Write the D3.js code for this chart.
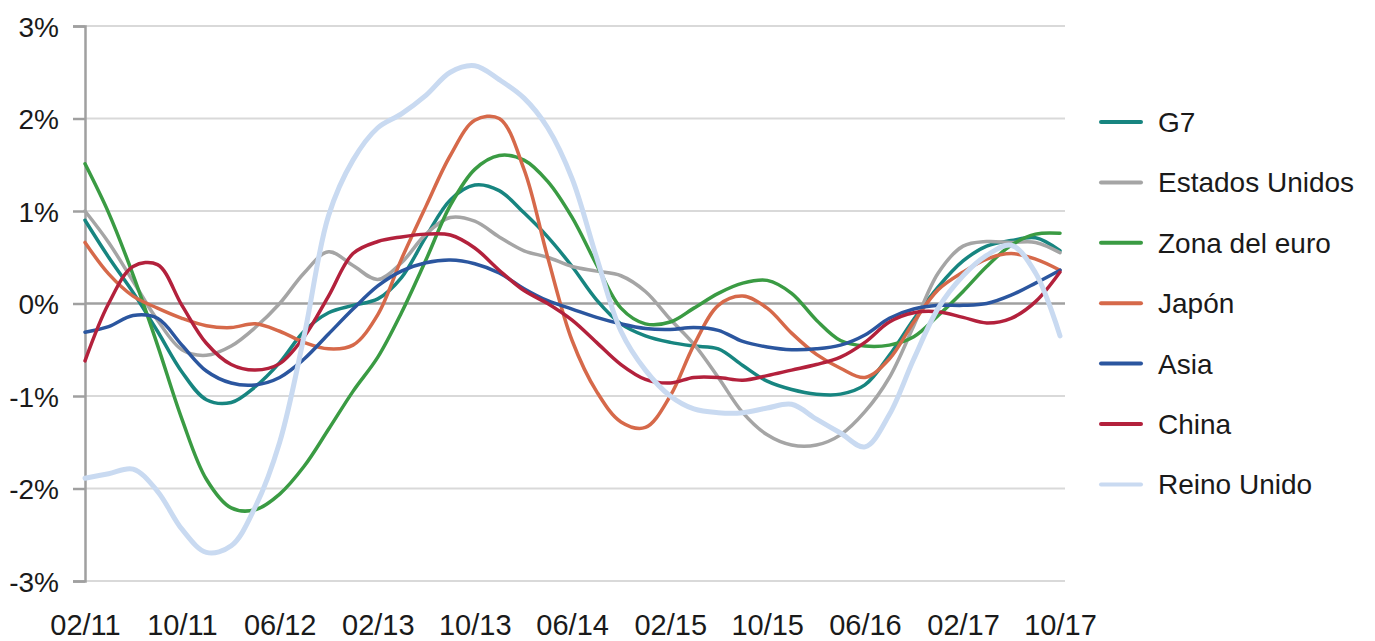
<!DOCTYPE html>
<html>
<head>
<meta charset="utf-8">
<script src="https://cdn.jsdelivr.net/npm/d3@7"></script>
<style>
	body { margin: 0; background: #fff; }
	text { font-family: "Liberation Sans", Arial, sans-serif; fill: #1a1a1a; }
</style>
</head>
<body>
<svg id="content" width="1375" height="641"></svg>
<script>
	// bi-monthly points, 02/2011 .. 10/2017
	const startMonth = '02/11';
	const endMonth = '10/17';
	const xTickLabels = ['02/11', '10/11', '06/12', '02/13', '10/13', '06/14', '02/15', '10/15', '06/16', '02/17', '10/17'];
	const yTicks = [-3, -2, -1, 0, 1, 2, 3];

	const seriesNames = ['G7', 'Estados Unidos', 'Zona del euro', 'Japón', 'Asia', 'China', 'Reino Unido'];
	const seriesColors = ['#178580', '#a5a5a5', '#3a9b43', '#d6694a', '#2b569f', '#b3213c', '#c9daf1'];

	const g7 = [0.9, 0.5, 0.12, -0.3, -0.74, -1.04, -1.07, -0.9, -0.64, -0.3, -0.1, -0.02, 0.05, 0.28, 0.72, 1.12, 1.28, 1.22, 0.98, 0.72, 0.4, 0.04, -0.22, -0.35, -0.42, -0.46, -0.49, -0.67, -0.84, -0.93, -0.98, -0.98, -0.88, -0.56, -0.17, 0.18, 0.46, 0.62, 0.68, 0.71, 0.57];
	const estadosUnidos = [1.0, 0.66, 0.24, -0.18, -0.5, -0.56, -0.46, -0.26, 0.0, 0.33, 0.56, 0.41, 0.26, 0.44, 0.75, 0.93, 0.89, 0.72, 0.57, 0.5, 0.4, 0.35, 0.3, 0.13, -0.17, -0.44, -0.8, -1.18, -1.42, -1.53, -1.53, -1.42, -1.17, -0.8, -0.24, 0.33, 0.62, 0.67, 0.66, 0.66, 0.55];
	const zonaEuro = [1.51, 0.98, 0.31, -0.45, -1.25, -1.9, -2.21, -2.23, -2.06, -1.76, -1.36, -0.95, -0.58, -0.1, 0.47, 1.06, 1.45, 1.6, 1.55, 1.32, 0.93, 0.42, -0.05, -0.22, -0.2, -0.05, 0.11, 0.22, 0.25, 0.11, -0.18, -0.4, -0.46, -0.45, -0.36, -0.13, 0.13, 0.4, 0.63, 0.75, 0.76];
	const japon = [0.66, 0.32, 0.08, -0.05, -0.16, -0.24, -0.26, -0.22, -0.3, -0.42, -0.49, -0.45, -0.12, 0.48, 1.05, 1.6, 1.98, 2.0, 1.45, 0.5, -0.4, -0.95, -1.28, -1.34, -1.0, -0.45, -0.02, 0.08, -0.05, -0.32, -0.55, -0.7, -0.8, -0.6, -0.2, 0.15, 0.34, 0.48, 0.54, 0.48, 0.36];
	const asia = [-0.31, -0.25, -0.13, -0.16, -0.45, -0.73, -0.86, -0.88, -0.8, -0.6, -0.33, -0.06, 0.19, 0.35, 0.44, 0.47, 0.43, 0.33, 0.16, 0.03, -0.06, -0.15, -0.22, -0.27, -0.28, -0.26, -0.29, -0.41, -0.47, -0.5, -0.49, -0.45, -0.34, -0.16, -0.06, -0.02, -0.02, 0.0, 0.09, 0.22, 0.36];
	const china = [-0.62, 0.0, 0.4, 0.42, -0.02, -0.43, -0.66, -0.72, -0.65, -0.36, 0.08, 0.54, 0.67, 0.72, 0.75, 0.74, 0.6, 0.36, 0.14, 0.0, -0.18, -0.42, -0.66, -0.82, -0.86, -0.8, -0.8, -0.83, -0.78, -0.72, -0.66, -0.58, -0.42, -0.2, -0.1, -0.09, -0.15, -0.21, -0.16, 0.02, 0.34];
	const reinoUnido = [-1.89, -1.84, -1.79, -2.03, -2.44, -2.69, -2.62, -2.2, -1.5, -0.35, 0.95, 1.55, 1.9, 2.05, 2.25, 2.5, 2.57, 2.42, 2.22, 1.9, 1.35, 0.5, -0.3, -0.72, -1.0, -1.14, -1.18, -1.18, -1.13, -1.09, -1.25, -1.4, -1.55, -1.2, -0.6, -0.05, 0.3, 0.52, 0.63, 0.33, -0.35];

	const seriesValues = [g7, estadosUnidos, zonaEuro, japon, asia, china, reinoUnido];

	const parseMonth = d3.timeParse('%m/%y');
	const t0 = parseMonth(startMonth);
	const t1 = parseMonth(endMonth);
	// every second month counted from the first one
	const dates = d3.timeMonth.range(t0, d3.timeMonth.offset(t1, 1), 2);

	const svg = d3.select('#content');

	const x = d3.scaleTime().domain([t0, t1]).range([85, 1060]);
	const y = d3.scaleLinear().domain([-3, 3]).range([581, 26]);

	// gridlines
	svg.append('g').selectAll('line')
		.data(yTicks)
		.enter().append('line')
		.attr('x1', 85).attr('x2', 1065)
		.attr('y1', d => y(d)).attr('y2', d => y(d))
		.attr('stroke', d => d == 0 ? '#a0a0a0' : '#d9d9d9')
		.attr('stroke-width', d => d == 0 ? 2.5 : 2);

	// y axis
	const yAxis = d3.axisLeft(y)
		.tickValues(yTicks)
		.tickSize(12)
		.tickPadding(14)
		.tickFormat(d => d + '%');
	const gy = svg.append('g').attr('transform', 'translate(85,0)').call(yAxis);
	gy.select('.domain').attr('stroke', '#a0a0a0').attr('stroke-width', 2.5);
	gy.selectAll('.tick line').attr('stroke', '#a0a0a0').attr('stroke-width', 2.5);
	gy.selectAll('.tick text')
		.attr('font-size', 28)
		.attr('font-family', '"Liberation Sans", Arial, sans-serif')
		.attr('fill', '#1a1a1a')
		.attr('dy', '0.36em');

	// x axis labels only
	const xAxis = d3.axisBottom(x)
		.tickValues(xTickLabels.map(parseMonth))
		.tickSize(0)
		.tickPadding(33)
		.tickFormat(d3.timeFormat('%m/%y'));
	const gx = svg.append('g').attr('transform', 'translate(0,581)').call(xAxis);
	gx.select('.domain').remove();
	gx.selectAll('.tick text')
		.attr('font-size', 29)
		.attr('font-family', '"Liberation Sans", Arial, sans-serif')
		.attr('fill', '#1a1a1a');

	const line = d3.line()
		.x((d, i) => x(dates[i]))
		.y(d => y(d))
		.curve(d3.curveCatmullRom.alpha(0.5));

	svg.append('g').selectAll('path')
		.data(seriesValues)
		.enter().append('path')
		.attr('d', line)
		.attr('fill', 'none')
		.attr('stroke', (d, i) => seriesColors[i])
		.attr('stroke-width', (d, i) => i == 6 ? 5 : 3.5)
		.attr('stroke-linejoin', 'round')
		.attr('stroke-linecap', 'round');

	// legend
	const legend = svg.append('g').selectAll('g')
		.data(seriesNames)
		.enter().append('g')
		.attr('transform', (d, i) => 'translate(1101,' + (122 + i * 60.4) + ')');
	legend.append('line')
		.attr('x1', 0).attr('x2', 40)
		.attr('stroke', (d, i) => seriesColors[i])
		.attr('stroke-width', 4)
		.attr('stroke-linecap', 'round');
	legend.append('text')
		.attr('x', 57)
		.attr('dy', '0.36em')
		.attr('font-size', 28)
		.text(d => d);
</script>
</body>
</html>
